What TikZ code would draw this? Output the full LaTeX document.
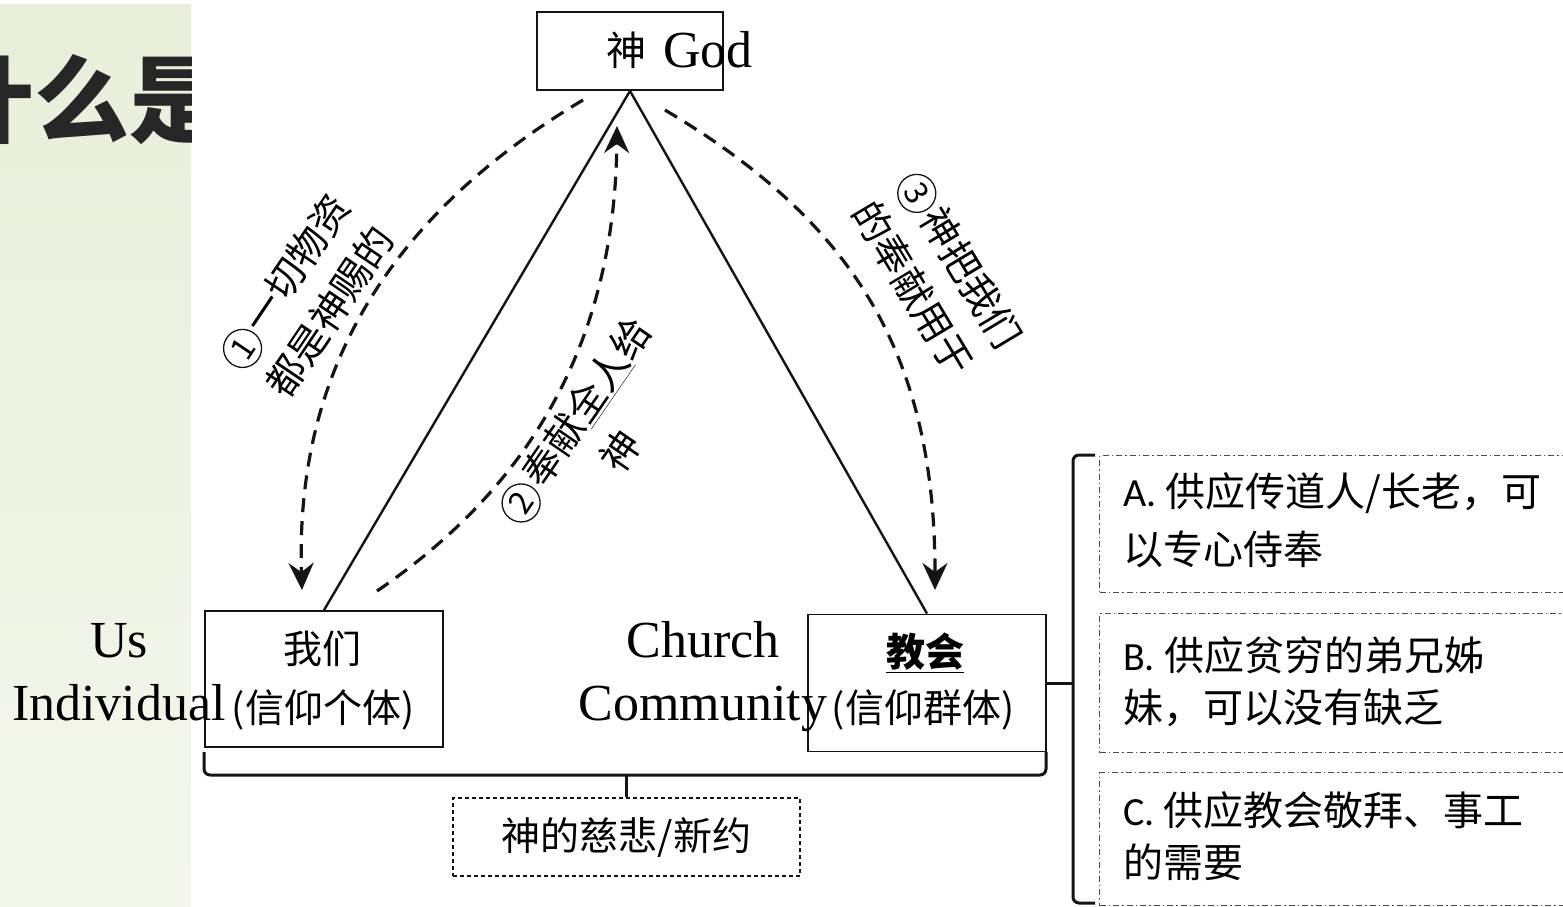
\documentclass[tikz,border=0pt]{standalone}
\usepackage{fontspec}
\setmainfont{Liberation Serif}
\newfontfamily\cjk{Noto Sans CJK SC}
\newfontfamily\latc{Carlito}
\usetikzlibrary{arrows.meta}
\definecolor{panelTop}{RGB}{233,239,218}
\definecolor{panelBot}{RGB}{244,247,236}
\definecolor{titlegray}{RGB}{38,38,38}
\definecolor{linecol}{RGB}{20,20,20}
\newcommand\circnum[1]{\tikz[baseline=(cn.base)]\node[draw=linecol, circle, line width=1.3pt, inner sep=0pt, minimum size=38pt, font=\cjk\fontsize{32}{32}\selectfont] (cn) {#1};\hspace{3pt}}
\tikzset{
  box/.style={draw=linecol, line width=1.8pt, rectangle, inner sep=0pt},
  dbox/.style={draw=black!70, line width=1.3pt, rectangle, inner sep=0pt, anchor=north west, minimum width=476pt, dash pattern=on 6pt off 3pt on 1.5pt off 3pt},
  mbox/.style={draw=linecol, line width=1.6pt, rectangle, inner sep=0pt, dash pattern=on 4pt off 3pt},
  cjkt/.style={font=\cjk\fontsize{39}{50}\selectfont, inner sep=0pt},
  cjkr/.style={font=\cjk\fontsize{40}{56}\selectfont, inner sep=0pt, anchor=west},
  lab/.style={font=\cjk\fontsize{39}{55}\selectfont, inner sep=0pt, align=center},
  serif/.style={font=\fontsize{52}{60}\selectfont, inner sep=0pt, anchor=base},
  edge/.style={draw=linecol, line width=2.4pt},
  flow/.style={draw=linecol, line width=3.2pt, dash pattern=on 14pt off 9pt, -{Stealth[length=27pt,width=25pt,inset=9pt]}},
  brk/.style={draw=linecol, line width=3pt, rounded corners=6pt},
}
\begin{document}
\begin{tikzpicture}[x=1pt,y=-1pt]
\useasboundingbox (0,0) rectangle (1563,906);
% left panel
\shade[top color=panelTop, bottom color=panelBot] (0,4) rectangle (191,906);
\begin{scope}
  \clip (0,4) rectangle (191,906);
  \node[font=\cjk\bfseries\fontsize{95}{95}\selectfont, text=titlegray, inner sep=0pt] (title) at (82,100) {什么是};
\end{scope}
% main boxes
\node[box, minimum width=186pt, minimum height=78pt] (god) at (630,51) {};
\node[inner sep=0pt, anchor=base west] (godtxt) at (606,67) {{\cjk\fontsize{40}{44}\selectfont\raisebox{2pt}{神}}\hspace{17pt}{\fontsize{52}{60}\selectfont God}};
\node[box, minimum width=238pt, minimum height=136pt] (us) at (324,679) {};
\node[cjkt] (us1) at (322,649) {我们};
\node[cjkt] (us2) at (323,710) {(信仰个体)};
\node[box, minimum width=238pt, minimum height=137pt] (church) at (927,683) {};
\node[cjkt, font=\cjk\bfseries\fontsize{39}{50}\selectfont] (ch1) at (925,653) {\underline{教会}};
\node[cjkt] (ch2) at (923,710) {(信仰群体)};
% english labels
\node[serif] (usA) at (119,657) {Us};
\node[serif] (usB) at (119,720) {Individual};
\node[serif] (chA) at (703,657) {Church};
\node[serif] (chB) at (703,720) {Community};
% triangle
\draw[edge] (god.south) -- (us.north);
\draw[edge] (god.south) -- (church.north);
% flows
\coordinate (f1s) at (583,100);
\coordinate (f1e) at (302,590);
\coordinate (f2s) at (377,591);
\coordinate (f2e) at (617,126);
\coordinate (f3s) at (665,110);
\coordinate (f3e) at (935,590);
\draw[flow] (f1s) .. controls (390,215) and (295,370) .. (f1e);
\draw[flow] (f2s) .. controls (540,480) and (615,330) .. (f2e);
\draw[flow] (f3s) .. controls (850,220) and (935,350) .. (f3e);
% rotated labels
\node[lab, rotate=56] (l1) at (307,296) {\circnum{1}一切物资\\都是神赐的};
\node[lab, rotate=55.5] (l2) at (597,435) {\circnum{2}奉献\underline{全人}给\\神};
\node[lab, rotate=-59] (l3) at (937,274) {\circnum{3}神把我们\\的奉献用于};
% bottom bracket and mercy box
\node[mbox, minimum width=347pt, minimum height=78pt, font=\cjk\fontsize{39}{50}\selectfont] (mercy) at (626.5,837) {神的慈悲/新约};
\coordinate (bl) at (204,752);
\coordinate (br) at (1046,752);
\coordinate (bmid) at (mercy.north |- 0,775);
\draw[brk] (bl) |- (br |- bmid) -- (br);
\draw[brk, rounded corners=0pt] (bmid) -- (mercy.north);
% right boxes
\node[dbox, minimum height=137pt] (boxA) at (1099,455) {};
\node[dbox, minimum height=139pt] (boxB) at (1099,613) {};
\node[dbox, minimum height=133pt] (boxC) at (1099,772) {};
\coordinate (rt) at (1095,455);
\coordinate (rb) at (1095,903);
\coordinate (rm) at (1073,683);
\draw[brk] (rt) -| (rm |- rb) -- (rb);
\draw[brk, rounded corners=0pt] (church.east) -- (rm);
\node[cjkr] (a1) at (1123,493) {{\latc A.} 供应传道人/长老，可};
\node[cjkr] (a2) at (1123,549) {以专心侍奉};
\node[cjkr] (b1) at (1123,655) {{\latc B.} 供应贫穷的弟兄姊};
\node[cjkr] (b2) at (1123,708) {妹，可以没有缺乏};
\node[cjkr] (c1) at (1123,810) {{\latc C.} 供应教会敬拜、事工};
\node[cjkr] (c2) at (1123,862) {的需要};
\end{tikzpicture}
\end{document}
